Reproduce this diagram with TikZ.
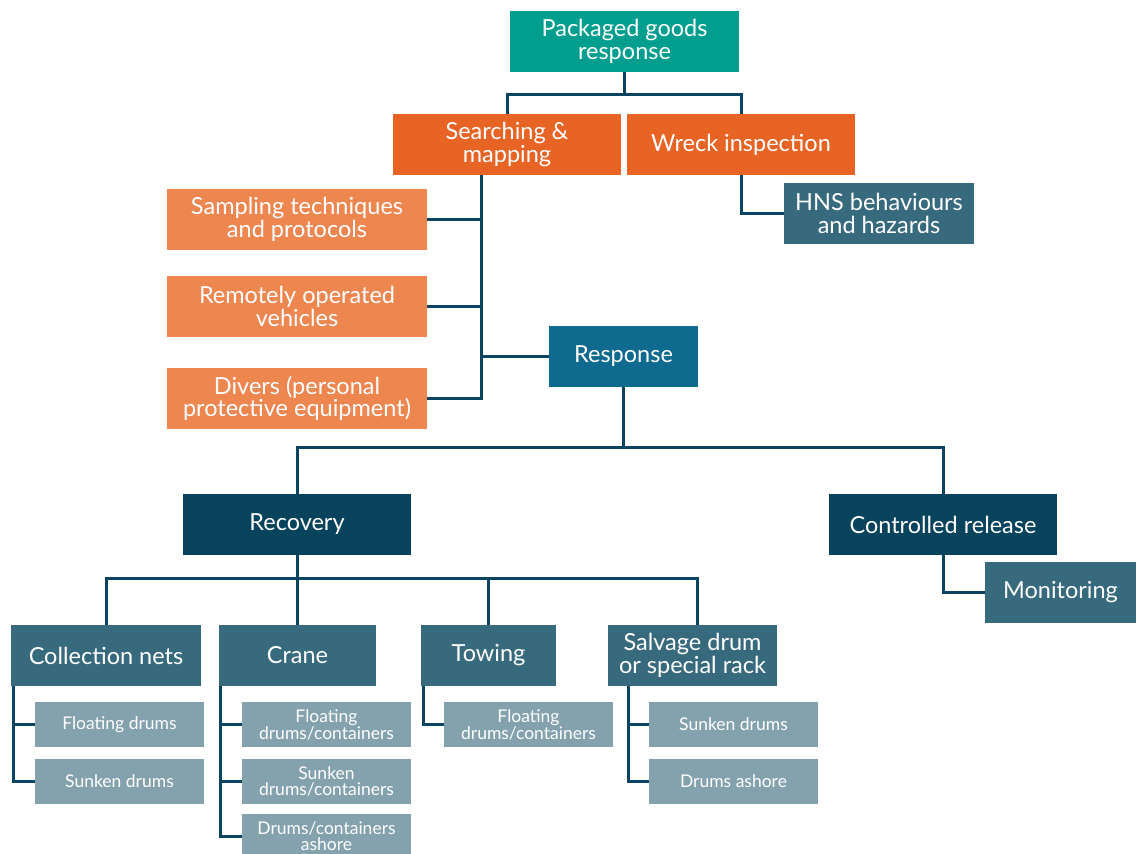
\documentclass[tikz,border=0pt]{standalone}
\usepackage{fontspec}
\setmainfont{Lato}
\usepackage{xcolor}
\usepackage{tikz}

\definecolor{rootteal}{HTML}{009E8F}
\definecolor{deeporange}{HTML}{E86424}
\definecolor{softorange}{HTML}{EE8650}
\definecolor{respblue}{HTML}{0E6B8F}
\definecolor{darkblue}{HTML}{07435C}
\definecolor{midblue}{HTML}{386A7D}
\definecolor{leafgrey}{HTML}{84A2AE}
\definecolor{linkblue}{HTML}{0B4460}

\begin{document}
\begin{tikzpicture}[x=1pt, y=-1pt,
  box/.style={rectangle, inner sep=0pt, align=center, text=white, minimum height=61pt,
    font=\fontsize{23.5}{22.5}\selectfont},
  leaf/.style={rectangle, inner sep=0pt, align=center, text=white, minimum height=45pt,
    minimum width=169pt, fill=leafgrey, font=\fontsize{17.5}{16}\selectfont},
  link/.style={draw=linkblue, line width=3pt}]

\useasboundingbox (0,0) rectangle (1136,854);

\node[box, fill=rootteal, minimum width=229pt] (root) at (624.5,41.5) {Packaged goods\\response};
\node[box, fill=deeporange, minimum width=228pt] (search) at (507,144.5) {Searching \&\\mapping};
\node[box, fill=deeporange, minimum width=228pt] (wreck) at (741,144.5) {Wreck inspection};
\node[box, fill=midblue, minimum width=190pt] (hns) at (879,213.5) {HNS behaviours\\and hazards};
\node[box, fill=softorange, minimum width=260pt] (sampling) at (297,219.5) {Sampling techniques\\and protocols};
\node[box, fill=softorange, minimum width=260pt] (rov) at (297,306.5) {Remotely operated\\vehicles};
\node[box, fill=softorange, minimum width=260pt] (divers) at (297,398.5) {Divers (personal\\protective equipment)};
\node[box, fill=respblue, minimum width=149pt] (response) at (623.5,356.5) {Response};
\node[box, fill=darkblue, minimum width=228pt] (recovery) at (297,524.5) {Recovery};
\node[box, fill=darkblue, minimum width=228pt] (release) at (943,524.5) {Controlled release};
\node[box, fill=midblue, minimum width=151pt] (monitor) at (1060.5,592.5) {Monitoring};
\node[box, fill=midblue, minimum width=190pt] (nets) at (106,655.5) {Collection nets};
\node[box, fill=midblue, minimum width=157pt] (crane) at (297.5,655.5) {Crane};
\node[box, fill=midblue, minimum width=135pt] (towing) at (488.5,655.5) {Towing};
\node[box, fill=midblue, minimum width=169pt] (salvage) at (692.5,655.5) {Salvage drum\\or special rack};

\node[leaf] (netsfloat) at (119.5,724.5) {Floating drums};
\node[leaf] (netssunk) at (119.5,781.5) {Sunken drums};
\node[leaf] (cranefloat) at (326.5,724.5) {Floating\\drums/containers};
\node[leaf] (cranesunk) at (326.5,781.5) {Sunken\\drums/containers};
\node[leaf] (craneshore) at (326.5,836.5) {Drums/containers\\ashore};
\node[leaf] (towfloat) at (528.5,724.5) {Floating\\drums/containers};
\node[leaf] (salvsunk) at (733.5,724.5) {Sunken drums};
\node[leaf] (salvshore) at (733.5,781.5) {Drums ashore};

\coordinate (rootbus) at (624.5,94);
\coordinate (strunk) at (481,175);
\coordinate (respbus) at (623.5,447);
\coordinate (recbus) at (297,578);

\draw[link] (root.south) -- (rootbus);
\draw[link] (search.north) |- (rootbus) -| (wreck.north);
\draw[link] (wreck.south) |- (hns.west);

\draw[link] (strunk) |- (divers.east);
\draw[link] (sampling.east) -| (strunk);
\draw[link] (rov.east) -| (strunk);
\draw[link] (response.west) -| (strunk);

\draw[link] (response.south) -- (respbus);
\draw[link] (recovery.north) |- (respbus) -| (release.north);
\draw[link] (release.south) |- (monitor.west);

\draw[link] (recovery.south) -- (recbus);
\draw[link] (nets.north) |- (recbus) -| ([xshift=4.5pt]salvage.north);
\draw[link] (crane.north) -- (crane.north |- recbus);
\draw[link] (towing.north) -- (towing.north |- recbus);

\draw[link] ([xshift=3pt]nets.south west) |- (netssunk.west);
\draw[link] ([xshift=3pt]nets.south west) |- (netsfloat.west);
\draw[link] ([xshift=2pt]crane.south west) |- (craneshore.west);
\draw[link] ([xshift=2pt]crane.south west) |- (cranesunk.west);
\draw[link] ([xshift=2pt]crane.south west) |- (cranefloat.west);
\draw[link] ([xshift=3pt]towing.south west) |- (towfloat.west);
\draw[link] ([xshift=21pt]salvage.south west) |- (salvshore.west);
\draw[link] ([xshift=21pt]salvage.south west) |- (salvsunk.west);
\end{tikzpicture}
\end{document}
